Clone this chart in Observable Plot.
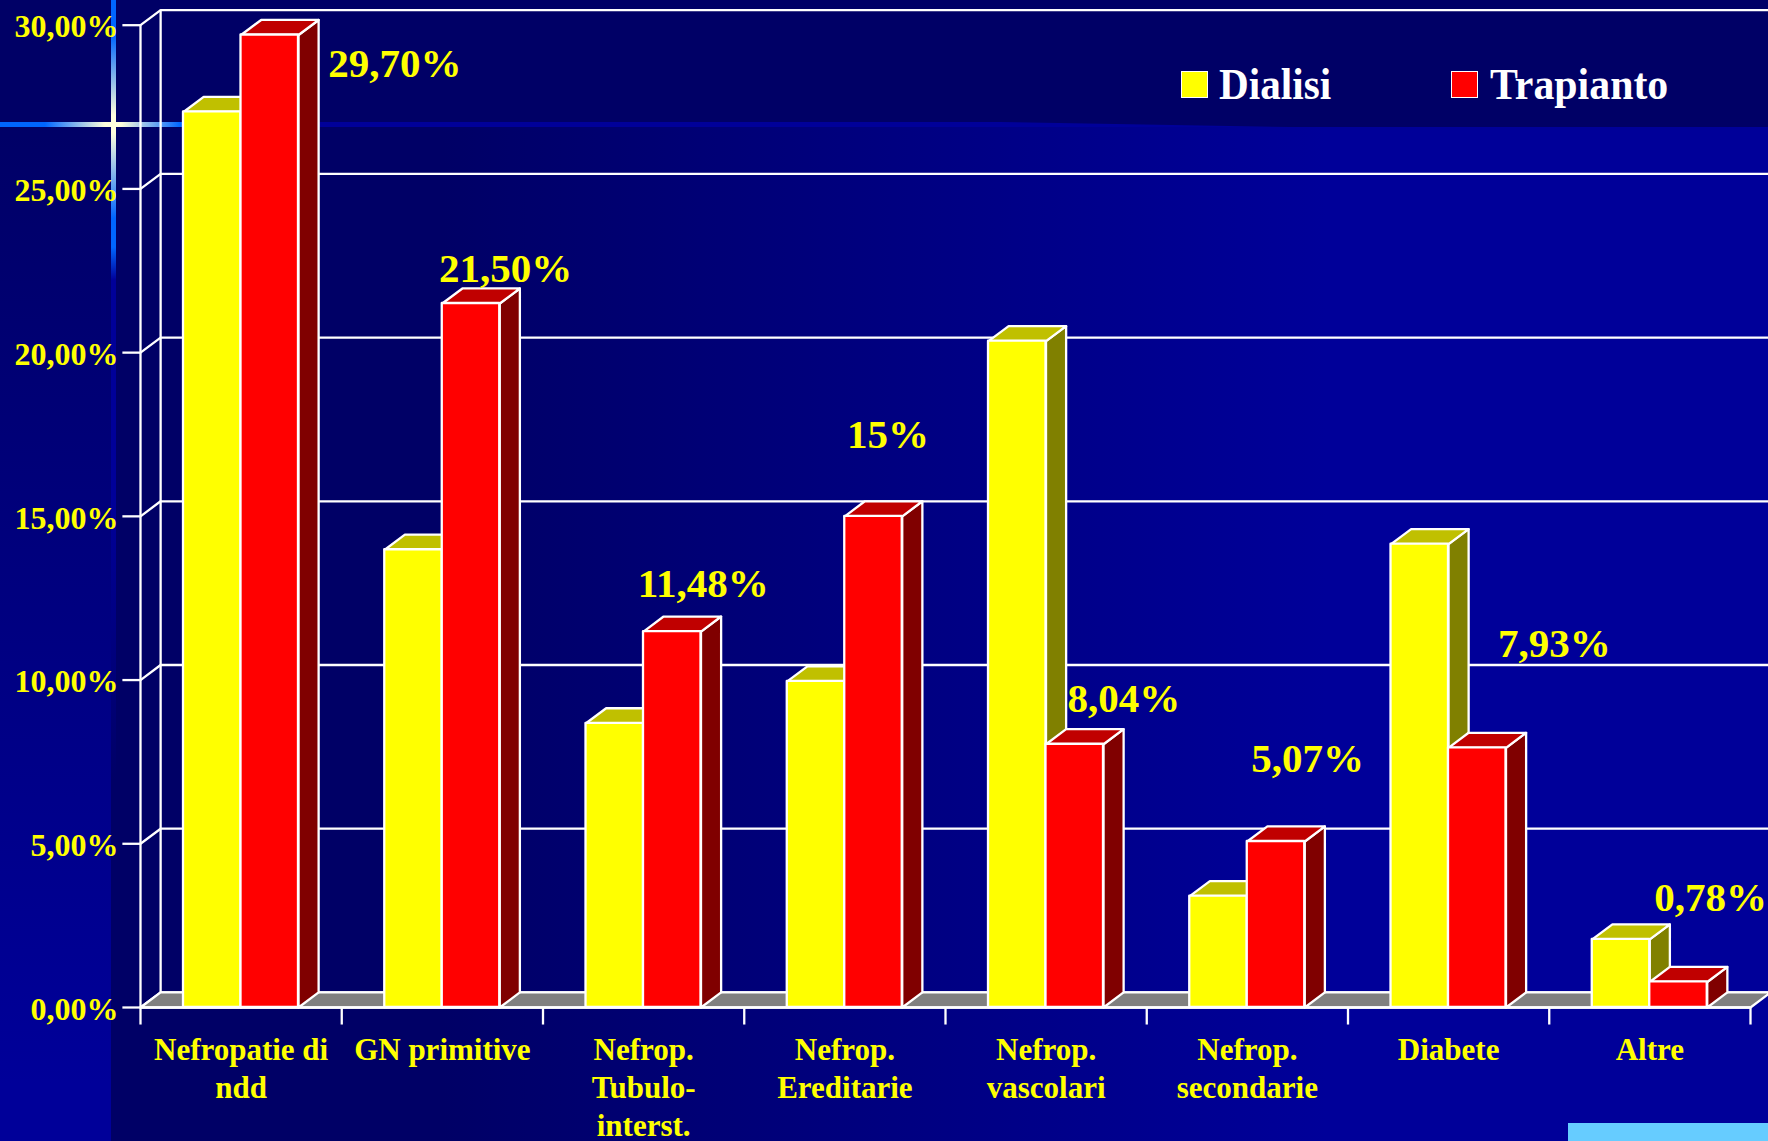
<!DOCTYPE html>
<html><head><meta charset="utf-8">
<script src="https://cdn.jsdelivr.net/npm/d3@7"></script>
<script src="https://cdn.jsdelivr.net/npm/@observablehq/plot@0.6"></script>
<style>
html,body{margin:0;padding:0;background:#000066}
#stage{position:relative;width:1768px;height:1141px;overflow:hidden;
  background:linear-gradient(to right,#000066 0,#000066 25%,#000099 75%,#000099 100%)}
#stage>div{position:absolute}
#leftcol{left:0;top:0;width:111px;height:1141px;background:linear-gradient(to bottom,#000066 10%,#000099 95%)}
#flareH{left:0;top:122px;width:1768px;height:5px;background:linear-gradient(to right,#0066ff 0,#0066ff 45px,#ffffdd 105px,#ffffdd 121px,#0066ff 180px,#000099 320px,#000099 100%)}
#topband{left:0;top:0;width:1768px;height:127px;background:#000066;clip-path:polygon(0 0,1768px 0,1768px 127px,1290px 127px,1000px 122px,0 122px)}
#flareV{left:111px;top:0;width:5px;height:800px;background:linear-gradient(to bottom,#0066ff 0,#0066ff 36px,#ffffdd 115px,#ffffdd 133px,#0066ff 218px,#0066ff 247px,#000099 280px,#000099 500px,rgba(0,0,153,0) 780px)}
#box{left:1568px;top:1123px;width:200px;height:18px;background:#66ccff}
svg{position:absolute;left:0;top:0;background:transparent;overflow:visible}
.sw{width:25px;height:25px;border:1px solid #fff}
.lg{font:bold 45px "Liberation Serif",serif;color:#fff;transform-origin:0 0;white-space:nowrap;line-height:52px}
</style></head><body>
<div id="stage">
  <div id="leftcol"></div><div id="flareH"></div><div id="topband"></div><div id="flareV"></div><div id="box"></div>
  <div class="sw" style="left:1181px;top:71px;background:#ffff00"></div>
  <div class="lg" style="left:1219px;top:58px;transform:scaleX(.915)">Dialisi</div>
  <div class="sw" style="left:1451px;top:71px;background:#ff0000"></div>
  <div class="lg" style="left:1490px;top:58px;transform:scaleX(.93)">Trapianto</div>
</div>
<script>
const categories = ["Nefropatie di\nndd","GN primitive","Nefrop.\nTubulo-\ninterst.","Nefrop.\nEreditarie","Nefrop.\nvascolari","Nefrop.\nsecondarie","Diabete","Altre"];
const dialisi   = [27.35,13.98,8.68,9.96,20.35,3.4,14.15,2.08];
const trapianto = [29.70,21.50,11.48,15,8.04,5.07,7.93,0.78];
const valueLabels = ["29,70%","21,50%","11,48%","15%","8,04%","5,07%","7,93%","0,78%"];
const yTicks = [0,5,10,15,20,25,30];
const yTickLabels = ["0,00%","5,00%","10,00%","15,00%","20,00%","25,00%","30,00%"];

// layout (bands on x, percent on y)
const depthX = 0.1, depthY = 0.46, barStart = 0.2137, barW = 0.2857, tickX = 0.09, tickY = 0.52;
const labelDx = [125,34.5,31,14.5,49,31.5,77,32];
const labelDy = [29,-35,-48,-81,-45,-83,-104,-84];
const FONT = '"Liberation Serif", serif';

const bars = (vals, off) => vals.map((v,i)=>({i, x0:i+barStart+off*barW, x1:i+barStart+(off+1)*barW, v}));
const topFace = b => [[b.x0,b.v],[b.x1,b.v],[b.x1+depthX,b.v+depthY],[b.x0+depthX,b.v+depthY],[b.x0,b.v]].map(p=>({x:p[0],y:p[1],z:b.i}));
const sideFace = b => [[b.x1,0],[b.x1+depthX,depthY],[b.x1+depthX,b.v+depthY],[b.x1,b.v],[b.x1,0]].map(p=>({x:p[0],y:p[1],z:b.i}));
const Y = bars(dialisi,0), R = bars(trapianto,1);
const white = {stroke:"#fff",strokeWidth:2.3,strokeLinejoin:"round"};
const poly = (d,fill)=>Plot.line(d,{x:"x",y:"y",z:"z",fill,...white});
const front = (d,fill)=>Plot.rect(d,{x1:"x0",x2:"x1",y1:0,y2:"v",fill,...white});

const grid = yTicks.flatMap(t=>[[0,t],[depthX,t+depthY],[8+depthX,t+depthY]].map(p=>({x:p[0],y:p[1],z:t})));
const floorFace = [[0,0],[8,0],[8+depthX,depthY],[depthX,depthY],[0,0]].map(p=>({x:p[0],y:p[1],z:0}));
const catData = categories.map((c,i)=>({c,x:i+0.5}));

const chart = Plot.plot({
  width:1768,height:1141,margin:0,
  x:{domain:[0,8],range:[140,1750],axis:null},
  y:{domain:[0,30],range:[1007,24.7],axis:null},
  marks:[
    poly(grid,"none"),
    Plot.ruleX([0],{y1:0,y2:30,...white}),
    Plot.ruleX([depthX],{y1:depthY,y2:30+depthY,...white}),
    poly(floorFace,"#808080"),
    Plot.link(yTicks,{x1:-tickX,x2:0,y1:d=>d,y2:d=>d,...white}),
    Plot.link(d3.range(9),{x1:d=>d,x2:d=>d,y1:0,y2:-tickY,...white}),
    Plot.ruleY([0],{x1:0,x2:8,...white}),
    poly(Y.flatMap(sideFace),"#808000"),
    poly(Y.flatMap(topFace),"#c0c000"),
    front(Y,"#ffff00"),
    poly(R.flatMap(sideFace),"#800000"),
    poly(R.flatMap(topFace),"#c00000"),
    front(R,"#ff0000"),
    Plot.text(yTickLabels,{x:0,y:(d,i)=>yTicks[i],text:d=>d,dx:-22,dy:2,textAnchor:"end",lineAnchor:"middle",fill:"#ffff00",fontFamily:FONT,fontWeight:"bold",fontSize:32}),
    Plot.text(catData,{x:"x",y:0,text:"c",dy:25,lineAnchor:"top",lineHeight:1.23,fill:"#ffff00",fontFamily:FONT,fontWeight:"bold",fontSize:31}),
    ...valueLabels.map((t,i)=>Plot.text([t],{x:R[i].x0+barW/2,y:trapianto[i],text:d=>d,dx:labelDx[i],dy:labelDy[i],lineAnchor:"middle",fill:"#ffff00",fontFamily:FONT,fontWeight:"bold",fontSize:41}))
  ]
});
chart.style.background="transparent";
document.getElementById("stage").appendChild(chart);
</script>
</body></html>
